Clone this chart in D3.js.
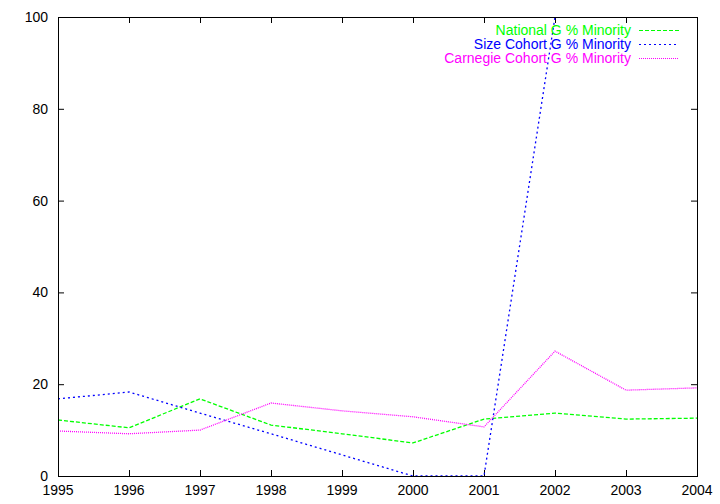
<!DOCTYPE html>
<html><head><meta charset="utf-8">
<script src="https://cdn.jsdelivr.net/npm/d3@7"></script>
<style>body{margin:0;background:#fff}svg{display:block}text{font-family:"Liberation Sans",Arial,sans-serif;font-size:14px}</style>
</head><body><svg id="c" width="720" height="504"></svg>
<script>
const years = [1995,1996,1997,1998,1999,2000,2001,2002,2003,2004];
const national = [12.2,10.5,16.8,11.1,9.2,7.2,12.4,13.7,12.4,12.6];
const sizeCohort = [16.8,18.3,13.7,9.2,4.6,0,0,100,100,100];
const carnegie = [9.8,9.2,10.0,15.9,14.2,12.9,10.7,27.2,18.7,19.2];
const yTicks = [0,20,40,60,80,100];
const seriesNames = ["National G % Minority","Size Cohort G % Minority","Carnegie Cohort G % Minority"];
const seriesColors = ["#00ff00","#0000ff","#ff00ff"];
const seriesDash = ["4,2","2,3","1,1"];
const seriesData = [national,sizeCohort,carnegie];

const svg = d3.select("#c");
const L=58,R=697,T=17,B=476;
const x = d3.scaleLinear().domain([1995,2004]).range([L,R]);
const y = d3.scaleLinear().domain([0,100]).range([B,T]);

svg.append("defs").append("clipPath").attr("id","clip").append("rect")
  .attr("x",L).attr("y",T).attr("width",R-L).attr("height",B-T);

// ticks
const tk = svg.append("g").attr("stroke","#000").attr("stroke-width",1);
yTicks.forEach(v=>{
  tk.append("line").attr("x1",L).attr("x2",L+6).attr("y1",y(v)+0.5).attr("y2",y(v)+0.5);
  tk.append("line").attr("x1",R-6).attr("x2",R).attr("y1",y(v)+0.5).attr("y2",y(v)+0.5);
});
years.forEach(v=>{
  tk.append("line").attr("x1",x(v)+0.5).attr("x2",x(v)+0.5).attr("y1",B).attr("y2",B-6);
  tk.append("line").attr("x1",x(v)+0.5).attr("x2",x(v)+0.5).attr("y1",T).attr("y2",T+6);
});
svg.append("g").selectAll("text").data(yTicks).join("text")
  .attr("x",L-10).attr("y",d=>y(d)+5).attr("text-anchor","end").text(d=>d);
svg.append("g").selectAll("text").data(years).join("text")
  .attr("x",d=>x(d)).attr("y",B+19).attr("text-anchor","middle").text(d=>d);

// lines
const line = d3.line().x((d,i)=>x(years[i])).y(d=>y(d));
const lg = svg.append("g").attr("clip-path","url(#clip)");
seriesData.forEach((s,i)=>{
  lg.append("path").attr("d",line(s)).attr("fill","none")
    .attr("stroke",seriesColors[i]).attr("stroke-width",1.3).attr("stroke-dasharray",seriesDash[i]);
});

// frame
svg.append("rect").attr("x",L+0.5).attr("y",T+0.5).attr("width",R-L).attr("height",B-T)
  .attr("fill","none").attr("stroke","#000").attr("stroke-width",1);

// legend
seriesNames.forEach((n,i)=>{
  const yy = 30+i*14;
  svg.append("text").attr("x",631).attr("y",yy+5).attr("text-anchor","end")
    .attr("fill",seriesColors[i]).attr("font-size","13.5px").text(n);
  svg.append("line").attr("x1",639).attr("x2",679).attr("y1",yy+0.5).attr("y2",yy+0.5)
    .attr("stroke",seriesColors[i]).attr("stroke-width",1.5).attr("shape-rendering","crispEdges")
    .attr("stroke-dasharray",seriesDash[i]);
});
</script></body></html>
